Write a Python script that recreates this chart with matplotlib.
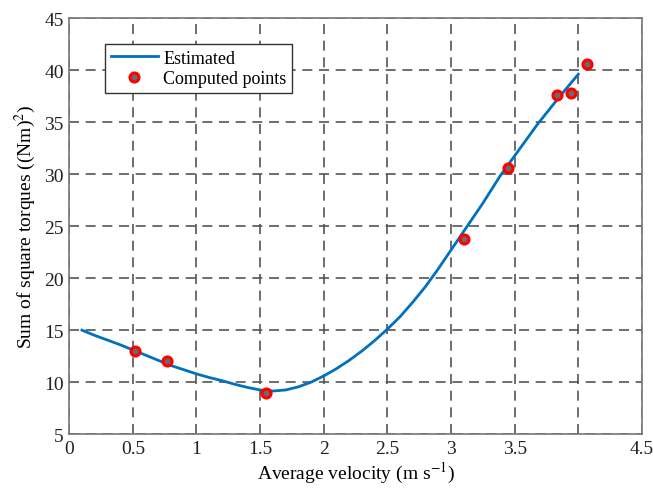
import matplotlib
matplotlib.use('Agg')
import matplotlib.pyplot as plt

# computed points
pts_x = [0.52, 0.77, 1.55, 3.10, 3.45, 3.83, 3.94, 4.07]
pts_y = [13.0, 12.0, 9.0, 23.8, 30.6, 37.6, 37.8, 40.6]

# estimated curve
est_x = [0.10, 0.20, 0.30, 0.40, 0.50, 0.60, 0.70, 0.80, 0.90, 1.00,
         1.10, 1.20, 1.30, 1.40, 1.50, 1.60, 1.70, 1.80, 1.90, 2.00,
         2.10, 2.20, 2.30, 2.40, 2.50, 2.60, 2.70, 2.80, 2.90, 3.00,
         3.10, 3.25, 3.39, 3.55, 3.68, 3.85, 4.00]
est_y = [15.0, 14.5, 14.05, 13.6, 13.1, 12.6, 12.1, 11.6, 11.2, 10.8,
         10.45, 10.15, 9.8, 9.5, 9.25, 9.15, 9.25, 9.55, 10.0, 10.6,
         11.3, 12.1, 13.0, 14.0, 15.1, 16.3, 17.7, 19.2, 20.9, 22.7,
         24.5, 27.2, 29.9, 32.6, 34.8, 37.4, 39.6]

xticks = [0, 0.5, 1, 1.5, 2, 2.5, 3, 3.5, 4, 4.5]
xtick_labels = ['0', '0.5', '1', '1.5', '2', '2.5', '3', '3.5', '', '4.5']
yticks = [5, 10, 15, 20, 25, 30, 35, 40, 45]

plt.rcParams['font.family'] = 'Liberation Serif'
plt.rcParams['mathtext.fontset'] = 'stix'

fig = plt.figure(figsize=(6.53, 4.89), dpi=100)
ax = fig.add_axes([0.106, 0.110, 0.877, 0.851])

ax.plot(est_x, est_y, color='#0072BD', lw=2.0, label='Estimated', zorder=3,
        solid_joinstyle='round')
ax.plot(pts_x, pts_y, 'o', ms=6.5, mfc='#6a6a6a', mec='#ff0000', mew=2.2,
        label='Computed points', zorder=4)

ax.set_xlim(0, 4.5)
ax.set_ylim(5, 45)
ax.set_xticks(xticks)
ax.set_xticklabels(xtick_labels)
ax.set_yticks(yticks)
ax.tick_params(labelsize=14, length=0, pad=4, colors='#222222')
ax.grid(True, color='#555555', linestyle=(0, (6, 4)), linewidth=1.2)
for s in ax.spines.values():
    s.set_color('#777777')
    s.set_linewidth(1.2)

ax.set_xlabel('Average velocity (m s$^{-1}$)', fontsize=14, labelpad=2)
ax.set_ylabel('Sum of square torques ((Nm)$^{2}$)', fontsize=14, labelpad=4)

leg = ax.legend(loc='upper left', bbox_to_anchor=(0.063, 0.937), fontsize=13,
                fancybox=False, framealpha=1, edgecolor='#333333',
                borderpad=0.3, borderaxespad=0, handlelength=2.6,
                handletextpad=0.3, labelspacing=0.2)
leg.get_frame().set_linewidth(1.0)

plt.savefig('out.png', dpi=100)
